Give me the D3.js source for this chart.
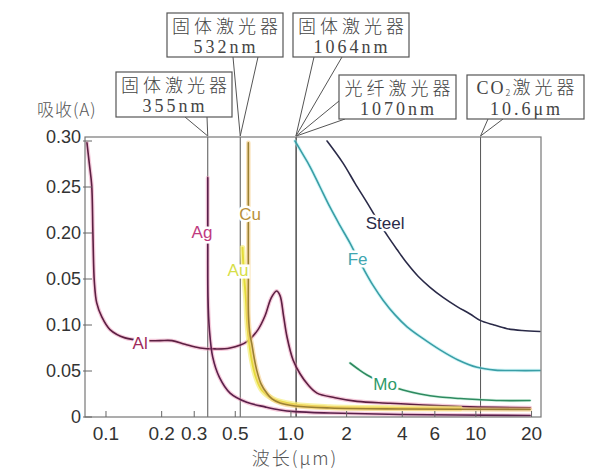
<!DOCTYPE html>
<html><head><meta charset="utf-8">
<script src="https://cdn.jsdelivr.net/npm/d3@7"></script>
<style>html,body{margin:0;padding:0;background:#fff}svg{display:block}</style>
</head><body>
<svg id="c" width="589" height="472"></svg>
<script>
// ---------- data ----------
const xTicks = [0.1, 0.2, 0.3, 0.5, 1, 2, 4, 6, 10, 20];
const xTickLabels = ["0.1", "0.2", "0.3", "0.5", "1.0", "2", "4", "6", "10", "20"];
const yTicks = [0.30, 0.25, 0.20, 0.15, 0.10, 0.05, 0];
const yTickLabels = ["0.30", "0.25", "0.20", "0.05", "0.10", "0.05", "0"];

const alWl = [0.0789,0.0814,0.0837,0.0850,0.0865,0.0891,0.0948,0.1051,0.1267,0.1625,0.1959,0.2275,0.2675,0.3225,0.3886,0.4686,0.5788,0.664,0.7245,0.7805,0.8357,0.873,0.912,0.9526,1.027,1.12,1.237,1.384,1.732,2.278,3.436,5.182,9.30,19.64];
const alA  = [0.298,0.274,0.252,0.198,0.147,0.124,0.109,0.095,0.086,0.083,0.083,0.083,0.079,0.075,0.074,0.075,0.082,0.095,0.110,0.129,0.137,0.132,0.110,0.087,0.062,0.047,0.035,0.026,0.021,0.017,0.015,0.013,0.011,0.010];

const agWl = [0.355,0.355,0.355,0.356,0.3624,0.3777,0.4106,0.4686,0.5768,0.7245,0.873,1.052,1.627,3.890,19.64];
const agA  = [0.260,0.236,0.189,0.130,0.095,0.065,0.043,0.026,0.016,0.011,0.0076,0.0058,0.0043,0.0027,0.0016];

const cuWl = [0.5884,0.5884,0.5884,0.5884,0.5899,0.6010,0.6137,0.6317,0.6531,0.6891,0.7400,0.7900,0.8730,1.052,1.627,3.890,19.64];
const cuA  = [0.298,0.225,0.203,0.149,0.109,0.089,0.080,0.065,0.051,0.036,0.026,0.0196,0.0152,0.012,0.0098,0.0087,0.0082];

const auWl = [0.5472,0.5576,0.5716,0.5789,0.5899,0.6137,0.6474,0.6976,0.8002,1.052,1.627,3.890,8.215];
const auA  = [0.184,0.154,0.127,0.105,0.087,0.062,0.043,0.029,0.0196,0.0136,0.0109,0.0098,0.0092];

const steelWl = [1.568,1.913,2.222,2.580,2.959,3.352,3.748,4.246,4.869,5.653,6.645,7.913,9.302,10.54,12.54,14.75,17.78,22.25];
const steelA  = [0.300,0.276,0.254,0.233,0.213,0.196,0.182,0.167,0.153,0.141,0.130,0.120,0.112,0.105,0.100,0.096,0.094,0.093];

const feWl = [1.052,1.148,1.269,1.437,1.627,1.843,2.087,2.278,2.454,2.780,3.149,3.656,4.246,5.117,6.403,8.012,10.15,12.70,16.29,22.25];
const feA  = [0.300,0.287,0.272,0.250,0.228,0.208,0.189,0.174,0.162,0.143,0.127,0.111,0.098,0.086,0.073,0.062,0.054,0.051,0.0505,0.0505];

const moWl = [2.087,2.306,2.580,3.228,4.040,4.991,6.403,8.215,10.15,13.52,19.64];
const moA  = [0.0587,0.0522,0.0457,0.0359,0.0293,0.0250,0.0217,0.0201,0.0190,0.0179,0.0179];

const seriesNames = ["Al", "Ag", "Au", "Cu", "Steel", "Fe", "Mo"];
const labelWl = [0.153, 0.3305, 0.5175, 0.601, 3.228, 2.292, 3.228];
const labelA  = [0.081, 0.2016, 0.1598, 0.2207, 0.2114, 0.1723, 0.0364];

const laserTypes = ["固体激光器", "固体激光器", "固体激光器", "光纤激光器", "CO₂激光器"];
const laserWlLabels = ["355nm", "532nm", "1064nm", "1070nm", "10.6μm"];
const laserWl = [0.355, 0.532, 1.064, 1.07, 10.6];

// ---------- styles / layout ----------
const style = {
  Al:    {core:"#5c1f42", halo:"#e88ab0", hw:4,   ho:0.45, label:"#a02a5a"},
  Ag:    {core:"#5a1f4a", halo:"#e88ab0", hw:4,   ho:0.45, label:"#c03a80"},
  Au:    {core:"#e4dc3a", halo:"#f5ee7a", hw:5.5, ho:0.7,  label:"#d6de4a"},
  Cu:    {core:"#9a8032", halo:"#f6c87a", hw:4.5, ho:0.55, label:"#b8903a"},
  Steel: {core:"#2a2a48", halo:null,      hw:0,   ho:0,    label:"#2a2a48"},
  Fe:    {core:"#3a9ea6", halo:"#a8eef2", hw:3.5, ho:0.5,  label:"#40a6b0"},
  Mo:    {core:"#2e8a60", halo:"#a8e8c8", hw:3,   ho:0.4,  label:"#2e9a6a"}
};
const seriesData = {
  Al:[alWl,alA], Ag:[agWl,agA], Au:[auWl,auA], Cu:[cuWl,cuA],
  Steel:[steelWl,steelA], Fe:[feWl,feA], Mo:[moWl,moA]
};
const boxLayout = [
  {left:116, top:72, w:116, h:45, a:[[69,45],[91,45]]},
  {left:167, top:13, w:116, h:44, a:[[66,44],[91,44]]},
  {left:293, top:13, w:116, h:44, a:[[21,44],[49,44]]},
  {left:339, top:75, w:117, h:44, a:[[0,26],[6,44]]},
  {left:467, top:75, w:117, h:44, a:[[21,44],[36,44]]}
];

const L = 85, R = 541, T = 137, B = 417;
const svg = d3.select("#c");
const x = d3.scaleLog().domain([0.077, 22.5]).range([L, R]);
const y = d3.scaleLinear().domain([0, 0.3]).range([B, 141]);

svg.append("rect").attr("width",589).attr("height",472).attr("fill","#fff");
svg.append("defs").append("clipPath").attr("id","clip")
  .append("rect").attr("x",L).attr("y",T-6).attr("width",R-L).attr("height",B-T+6);

// laser lines
svg.append("g").selectAll("line").data(laserWl).join("line")
  .attr("x1",d=>x(d)).attr("x2",d=>x(d)).attr("y1",T).attr("y2",B)
  .attr("stroke","#555").attr("stroke-width",1);

// curves
const line = d3.line().x(d=>x(d[0])).y(d=>y(d[1])).curve(d3.curveCatmullRom.alpha(0.5));
const cg = svg.append("g").attr("clip-path","url(#clip)");
seriesNames.forEach(n=>{
  const [w,a] = seriesData[n];
  const pts = w.map((v,i)=>[v,a[i]]);
  const s = style[n];
  if (s.halo) cg.append("path").attr("d",line(pts)).attr("fill","none")
      .attr("stroke",s.halo).attr("stroke-width",s.hw).attr("stroke-opacity",s.ho)
      .attr("stroke-linecap","round");
  cg.append("path").attr("d",line(pts)).attr("fill","none")
      .attr("stroke",s.core).attr("stroke-width",n==="Au"?2:1.6).attr("stroke-linecap","round");
});

// frame
svg.append("rect").attr("x",L).attr("y",T).attr("width",R-L).attr("height",B-T)
  .attr("fill","none").attr("stroke","#777").attr("stroke-width",1.2);

// x ticks
const xg = svg.append("g");
xg.selectAll("line").data(xTicks).join("line")
  .attr("x1",d=>x(d)).attr("x2",d=>x(d)).attr("y1",B).attr("y2",B-6)
  .attr("stroke","#666").attr("stroke-width",1);
xg.selectAll("text").data(xTicks).join("text")
  .attr("x",d=>x(d)).attr("y",433).attr("dy","0.36em")
  .attr("text-anchor","middle").attr("font-family","Liberation Sans, Arial, sans-serif")
  .attr("font-size",19).attr("fill","#333").text((d,i)=>xTickLabels[i]);

// y ticks
const yg = svg.append("g");
yg.selectAll("line").data(yTicks).join("line")
  .attr("x1",L-2).attr("x2",L+7).attr("y1",d=>y(d)).attr("y2",d=>y(d))
  .attr("stroke","#666").attr("stroke-width",1);
yg.selectAll("text").data(yTicks).join("text")
  .attr("x",81).attr("y",d=>d===0.30?T:y(d)).attr("dy","0.36em")
  .attr("text-anchor","end").attr("font-family","Liberation Sans, Arial, sans-serif")
  .attr("font-size",18).attr("fill","#333").text((d,i)=>yTickLabels[i]);

// axis titles
svg.append("text").attr("x",37).attr("y",110).attr("dy","0.36em")
  .attr("font-family","Noto Sans CJK SC, sans-serif").attr("font-weight",300)
  .attr("font-size",17).attr("fill","#555").attr("letter-spacing",1).text("吸收(A)");
svg.append("text").attr("x",295).attr("y",459).attr("dy","0.36em").attr("text-anchor","middle")
  .attr("font-family","Noto Sans CJK SC, sans-serif").attr("font-weight",300)
  .attr("font-size",18).attr("fill","#555").attr("letter-spacing",2).text("波长(μm)");

// series labels
svg.append("g").selectAll("text").data(seriesNames).join("text")
  .attr("x",(d,i)=>x(labelWl[i])).attr("y",(d,i)=>y(labelA[i])).attr("dy","0.36em")
  .attr("text-anchor","middle").attr("font-family","Liberation Sans, Arial, sans-serif")
  .attr("font-size",17).attr("fill",d=>style[d].label)
  .attr("stroke","#fff").attr("stroke-width",5).attr("paint-order","stroke")
  .text(d=>d);

// callouts
laserWl.forEach((wl,i)=>{
  const b = boxLayout[i];
  const tx = x(wl), ty = T-1;
  const g = svg.append("g");
  const p1 = [b.left+b.a[0][0], b.top+b.a[0][1]];
  const p2 = [b.left+b.a[1][0], b.top+b.a[1][1]];
  g.append("path").attr("d",`M${p1[0]},${p1[1]}L${tx},${ty}L${p2[0]},${p2[1]}`)
    .attr("fill","none").attr("stroke","#555").attr("stroke-width",1);
  g.append("rect").attr("x",b.left).attr("y",b.top).attr("width",b.w).attr("height",b.h)
    .attr("fill","#fff").attr("stroke","#555").attr("stroke-width",1.2);
  const t1 = g.append("text").attr("x",b.left+b.w/2+2).attr("y",b.top+14).attr("dy","0.36em")
    .attr("text-anchor","middle").attr("font-family","Noto Sans CJK SC, sans-serif")
    .attr("font-weight",300).attr("font-size",18).attr("fill","#444").attr("letter-spacing",4);
  const name = laserTypes[i];
  if (name.includes("₂")) {
    const parts = name.split("₂");
    t1.attr("letter-spacing",2).attr("y",b.top+13);
    t1.append("tspan").attr("font-family","Liberation Serif, serif").text(parts[0]);
    t1.append("tspan").attr("font-size",9).attr("dy",2).text("2");
    t1.append("tspan").attr("dy",-2).attr("letter-spacing",4).text(parts[1]);
  } else t1.text(name);
  g.append("text").attr("x",b.left+b.w/2+1).attr("y",b.top+34).attr("dy","0.36em")
    .attr("text-anchor","middle").attr("font-family","Liberation Serif, serif")
    .attr("font-size",18).attr("fill","#444").attr("letter-spacing",3).text(laserWlLabels[i]);
});
</script>
</body></html>
